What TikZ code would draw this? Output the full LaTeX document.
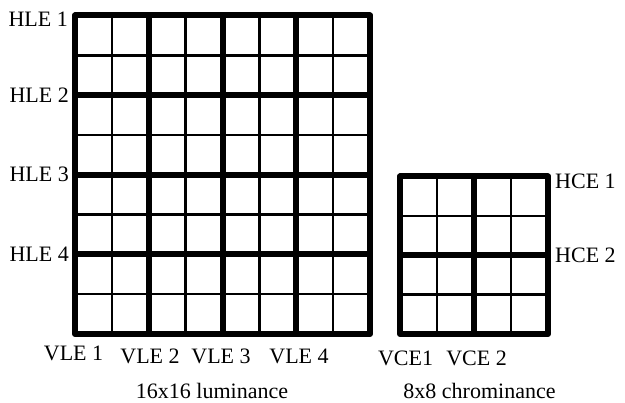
\documentclass[tikz,border=0pt]{standalone}
\usepackage{fontspec}
\setmainfont{Liberation Serif}
\begin{document}
\begin{tikzpicture}[x=1pt,y=-1pt,
  thinline/.style={line width=2.4pt},
  thickline/.style={line width=6pt},
  lbl/.style={inner sep=0pt,font=\fontsize{22}{24}\selectfont}]
\useasboundingbox (0,0) rectangle (625,403);
% large grid 16x16
\foreach \i in {1,3,5,7}{
  \draw[thinline] ({75+\i*36.875},15.5) -- ({75+\i*36.875},334);
  \draw[thinline] (75,{15.5+\i*39.8125}) -- (370,{15.5+\i*39.8125});
}
\foreach \i in {2,4,6}{
  \draw[thickline] ({75+\i*36.875},15.5) -- ({75+\i*36.875},334);
  \draw[thickline] (75,{15.5+\i*39.8125}) -- (370,{15.5+\i*39.8125});
}
\draw[thickline,line join=round] (75,15.5) rectangle (370,334);
% small grid 8x8
\foreach \i in {1,3}{
  \draw[thinline] ({400+\i*37},176.5) -- ({400+\i*37},334);
  \draw[thinline] (400,{176.5+\i*39.375}) -- (548,{176.5+\i*39.375});
}
\draw[thickline] (474,176.5) -- (474,334);
\draw[thickline] (400,255.25) -- (548,255.25);
\draw[thickline,line join=round] (400,176.5) rectangle (548,334);
% labels
\node[lbl,anchor=east] (hle1) at (68,19) {HLE 1};
\node[lbl,anchor=east] (hle2) at (69,95) {HLE 2};
\node[lbl,anchor=east] (hle3) at (69,174.5) {HLE 3};
\node[lbl,anchor=east] (hle4) at (69,254.5) {HLE 4};
\node[lbl,anchor=west] (hce1) at (555,181) {HCE 1};
\node[lbl,anchor=west] (hce2) at (555,255.5) {HCE 2};
\node[lbl] (vle1) at (73.5,353.5) {VLE 1};
\node[lbl] (vle2) at (150,356.5) {VLE 2};
\node[lbl] (vle3) at (221,356.5) {VLE 3};
\node[lbl] (vle4) at (299,356.5) {VLE 4};
\node[lbl] (vce1) at (405.5,358) {VCE1};
\node[lbl] (vce2) at (476.5,358) {VCE 2};
\node[lbl] (lum) at (212,390.5) {16x16 luminance};
\node[lbl] (chr) at (479.5,390.5) {8x8 chrominance};
\end{tikzpicture}
\end{document}
